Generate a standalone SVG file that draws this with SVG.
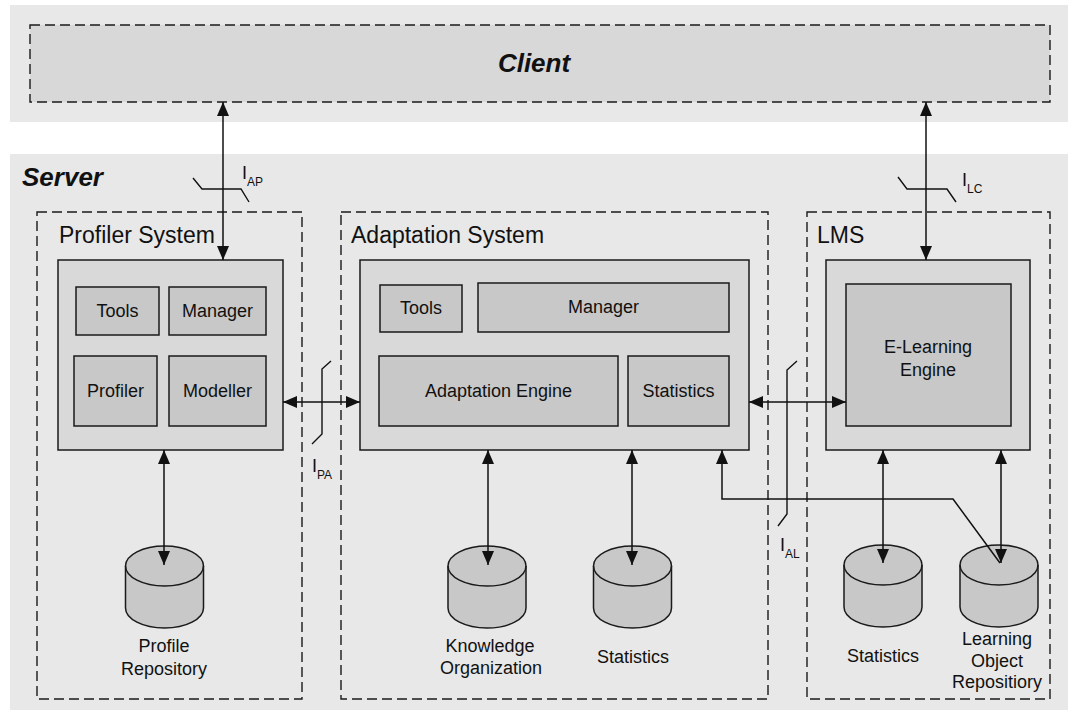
<svg xmlns="http://www.w3.org/2000/svg" width="1068" height="715" viewBox="0 0 1068 715">
  <style>
    .band { fill: #e8e8e8; stroke: none; }
    .dash { fill: none; stroke: #1a1a1a; stroke-width: 1.4; stroke-dasharray: 10 5; }
    .inner { fill: #d9d9d9; stroke: #1a1a1a; stroke-width: 1.5; }
    .part { fill: #c8c8c8; stroke: #1a1a1a; stroke-width: 1.5; }
    .cyl { fill: #c8c8c8; stroke: #1a1a1a; stroke-width: 1.5; }
    .cyl-rim { fill: none; stroke: #1a1a1a; stroke-width: 1.5; }
    text { font-family: "Liberation Sans", Arial, sans-serif; fill: #111; }
    .title { font-size: 26px; font-weight: bold; font-style: italic; }
    .head { font-size: 23px; }
    .lbl { font-size: 18px; text-anchor: middle; }
    .if { font-size: 18px; }
    .sub { font-size: 12px; }
    .conn { fill: none; stroke: #111; stroke-width: 1.5; }
    .cut { fill: none; stroke: #111; stroke-width: 1.4; }
  </style>
  <defs>
    <marker id="head" viewBox="0 0 14 12" refX="14" refY="6" markerWidth="14" markerHeight="12" markerUnits="userSpaceOnUse" orient="auto-start-reverse">
      <path d="M0,0 L14,6 L0,12 Z" fill="#111"/>
    </marker>
    <g id="cylinder">
      <path class="cyl" d="M-39,20 L-39,62 A39,20 0 0 0 39,62 L39,20 A39,20 0 0 0 -39,20 Z"/>
      <path class="cyl-rim" d="M-39,20 A39,20 0 0 0 39,20"/>
    </g>
  </defs>

  <!-- client tier -->
  <g id="client">
    <rect class="band" x="10" y="5" width="1058" height="117"/>
    <rect x="30" y="25" width="1020" height="77" fill="#d8d8d8" stroke="none"/>
    <rect class="dash" x="30" y="25" width="1020" height="77"/>
    <text class="title" x="534" y="72" text-anchor="middle">Client</text>
  </g>

  <!-- server tier -->
  <g id="server">
    <rect class="band" x="10" y="154" width="1058" height="556"/>
    <text class="title" x="22" y="186">Server</text>
  </g>

  <!-- profiler system -->
  <g id="profiler-system">
    <rect class="dash" x="37" y="212" width="265" height="487"/>
    <text class="head" x="59" y="243">Profiler System</text>
    <rect class="inner" x="58" y="260" width="225" height="190"/>
    <rect class="part" x="76" y="287" width="83" height="48"/>
    <text class="lbl" x="117.5" y="317">Tools</text>
    <rect class="part" x="169" y="287" width="97" height="48"/>
    <text class="lbl" x="217.5" y="317">Manager</text>
    <rect class="part" x="74" y="356" width="83" height="70"/>
    <text class="lbl" x="115.5" y="397">Profiler</text>
    <rect class="part" x="169" y="356" width="97" height="70"/>
    <text class="lbl" x="217.5" y="397">Modeller</text>
  </g>
  <g id="profile-repository">
    <use href="#cylinder" x="164.5" y="546"/>
    <text class="lbl" x="164" y="652">Profile</text>
    <text class="lbl" x="164" y="675">Repository</text>
  </g>

  <!-- adaptation system -->
  <g id="adaptation-system">
    <rect class="dash" x="341" y="212" width="427" height="487"/>
    <text class="head" x="351" y="243">Adaptation System</text>
    <rect class="inner" x="360" y="260" width="389" height="190"/>
    <rect class="part" x="380" y="285" width="82" height="47"/>
    <text class="lbl" x="421" y="314">Tools</text>
    <rect class="part" x="478" y="283" width="251" height="49"/>
    <text class="lbl" x="603.5" y="313">Manager</text>
    <rect class="part" x="379" y="356" width="239" height="70"/>
    <text class="lbl" x="498.5" y="397">Adaptation Engine</text>
    <rect class="part" x="628" y="356" width="101" height="70"/>
    <text class="lbl" x="678.5" y="397">Statistics</text>
  </g>
  <g id="knowledge-organization">
    <use href="#cylinder" x="487" y="546"/>
    <text class="lbl" x="490" y="652">Knowledge</text>
    <text class="lbl" x="491" y="674">Organization</text>
  </g>
  <g id="adaptation-statistics">
    <use href="#cylinder" x="632.5" y="546"/>
    <text class="lbl" x="633" y="663">Statistics</text>
  </g>

  <!-- learning management system -->
  <g id="lms">
    <rect class="dash" x="807" y="212" width="243" height="487"/>
    <text class="head" x="817" y="243">LMS</text>
    <rect class="inner" x="826" y="260" width="204" height="190"/>
    <rect class="part" x="846" y="284" width="165" height="142"/>
    <text class="lbl" x="928" y="353">E-Learning</text>
    <text class="lbl" x="928" y="376">Engine</text>
  </g>
  <g id="lms-statistics">
    <use href="#cylinder" x="883" y="545"/>
    <text class="lbl" x="883" y="662">Statistics</text>
  </g>
  <g id="learning-object-repository">
    <use href="#cylinder" x="999" y="545"/>
    <text class="lbl" x="997" y="645">Learning</text>
    <text class="lbl" x="997" y="667">Object</text>
    <text class="lbl" x="997" y="688">Repositiory</text>
  </g>

  <!-- connectors and interface cuts -->
  <g id="connectors">
    <line class="conn" x1="223" y1="102" x2="223" y2="260" marker-start="url(#head)" marker-end="url(#head)"/>
    <line class="conn" x1="926" y1="102" x2="926" y2="260" marker-start="url(#head)" marker-end="url(#head)"/>
    <line class="conn" x1="283" y1="402" x2="360" y2="402" marker-start="url(#head)" marker-end="url(#head)"/>
    <line class="conn" x1="749" y1="402" x2="846" y2="402" marker-start="url(#head)" marker-end="url(#head)"/>
    <line class="conn" x1="164" y1="450" x2="164" y2="565" marker-start="url(#head)" marker-end="url(#head)"/>
    <line class="conn" x1="488" y1="450" x2="488" y2="565" marker-start="url(#head)" marker-end="url(#head)"/>
    <line class="conn" x1="632" y1="450" x2="632" y2="565" marker-start="url(#head)" marker-end="url(#head)"/>
    <line class="conn" x1="883" y1="450" x2="883" y2="563" marker-start="url(#head)" marker-end="url(#head)"/>
    <line class="conn" x1="1001" y1="450" x2="1001" y2="563" marker-start="url(#head)" marker-end="url(#head)"/>
    <path class="conn" d="M1000,563 L953,499 L722,499 L722,450" marker-end="url(#head)"/>

    <path class="cut" d="M193,178 L202,189 L241,189 L249,202"/>
    <text class="if" x="242" y="179">I</text><text class="sub" x="247" y="186">AP</text>

    <path class="cut" d="M898,177 L907,189 L947,189 L956,202"/>
    <text class="if" x="962" y="186">I</text><text class="sub" x="967" y="193">LC</text>

    <path class="cut" d="M331,361 L322,369 L322,434 L312,444"/>
    <text class="if" x="312" y="472">I</text><text class="sub" x="317" y="479">PA</text>

    <path class="cut" d="M797,361 L787,370 L787,514 L778,526"/>
    <text class="if" x="780" y="551">I</text><text class="sub" x="785" y="558">AL</text>
  </g>
</svg>
